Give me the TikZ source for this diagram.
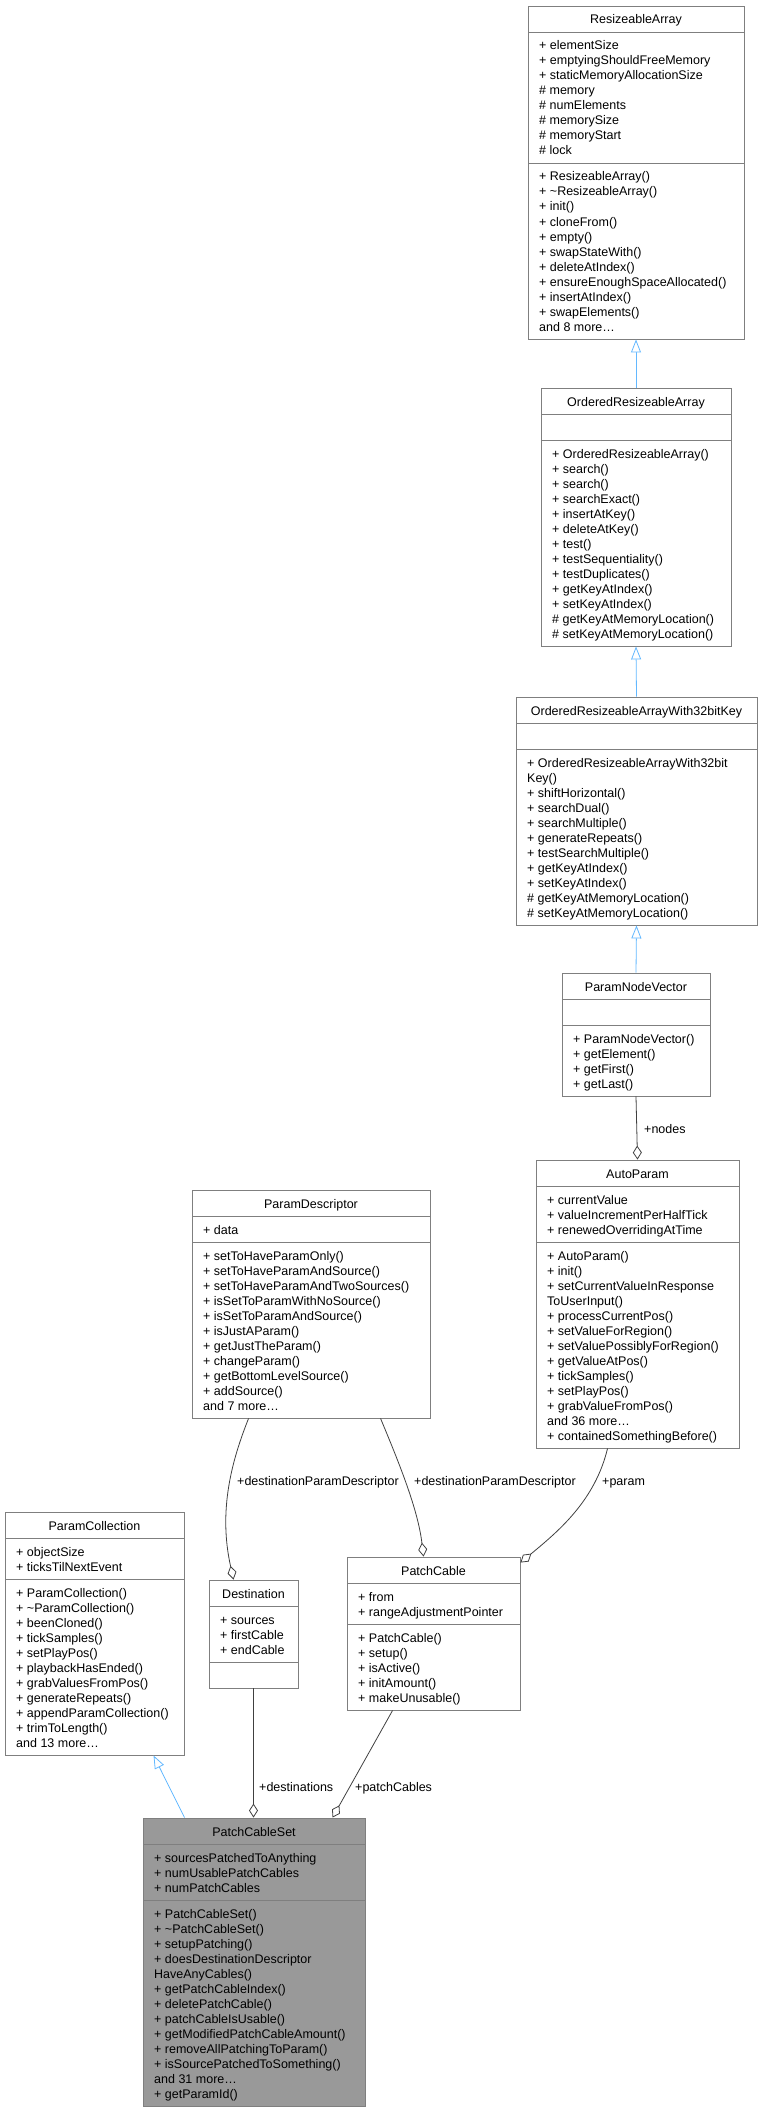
\documentclass[tikz,border=0pt]{standalone}
\usepackage{fontspec}
\setmainfont{Liberation Sans}
\usetikzlibrary{arrows.meta,fit}
\definecolor{boxgray}{HTML}{7F7F7F}
\definecolor{inh}{HTML}{63B8FF}
\definecolor{lnk}{HTML}{404040}
\definecolor{selfill}{HTML}{999999}
\newcommand\mydots{\ldots}
\tikzset{
  txt/.style={inner sep=0pt,font=\fontsize{12.5}{15}\selectfont,text=black},
  inhline/.style={draw=inh,line width=0.8pt,-{Triangle[open,length=13pt,width=10pt,fill=white]}},
  aggline/.style={draw=lnk,line width=0.8pt,-{Diamond[open,length=14pt,width=9pt,fill=white]}},
}
% name, x1, x2, top, d1, d2, bottom, title, fill
\newcommand\umlbox[9]{%
  \node[fit={(#2,#4)(#3,#7)},inner sep=0pt,draw=boxgray,line width=0.9pt,fill=#9] (#1) {};
  \draw[boxgray,line width=0.9pt] (#2,#5) -- (#3,#5);
  \draw[boxgray,line width=0.9pt] (#2,#6) -- (#3,#6);
  \node[txt,anchor=base] (#1-t) at ({(#2+#3)/2},#4+18) {#8};
}
% prefix, x, first baseline, list
\newcommand\umllines[4]{%
  \foreach \t [count=\i] in {#4} {\node[txt,anchor=base west] (#1\i) at (#2,{#3+15*(\i-1)}) {\t};}
}
\begin{document}
\begin{tikzpicture}[x=1pt,y=-1pt]
\useasboundingbox (0,0) rectangle (762,2111);

\umlbox{ra}{528}{744}{6}{32}{163}{339}{ResizeableArray}{white}
\umllines{ra-a}{539}{50}{+ elementSize,+ emptyingShouldFreeMemory,+ staticMemoryAllocationSize,\# memory,\# numElements,\# memorySize,\# memoryStart,\# lock}
\umllines{ra-m}{539}{181}{+ ResizeableArray(),+ \textasciitilde ResizeableArray(),+ init(),+ cloneFrom(),+ empty(),+ swapStateWith(),+ deleteAtIndex(),+ ensureEnoughSpaceAllocated(),+ insertAtIndex(),+ swapElements(),and 8 more\mydots}

\umlbox{ora}{541}{731}{388}{414}{440}{646}{OrderedResizeableArray}{white}
\umllines{ora-m}{552}{458}{+ OrderedResizeableArray(),+ search(),+ search(),+ searchExact(),+ insertAtKey(),+ deleteAtKey(),+ test(),+ testSequentiality(),+ testDuplicates(),+ getKeyAtIndex(),+ setKeyAtIndex(),\# getKeyAtMemoryLocation(),\# setKeyAtMemoryLocation()}

\umlbox{oraw}{516}{757}{697}{723}{749}{925}{OrderedResizeableArrayWith32bitKey}{white}
\umllines{oraw-m}{527}{767}{+ OrderedResizeableArrayWith32bit,Key(),+ shiftHorizontal(),+ searchDual(),+ searchMultiple(),+ generateRepeats(),+ testSearchMultiple(),+ getKeyAtIndex(),+ setKeyAtIndex(),\# getKeyAtMemoryLocation(),\# setKeyAtMemoryLocation()}

\umlbox{pnv}{562}{710}{973}{999}{1025}{1096}{ParamNodeVector}{white}
\umllines{pnv-m}{573}{1043}{+ ParamNodeVector(),+ getElement(),+ getFirst(),+ getLast()}

\umlbox{ap}{536}{739}{1160}{1186}{1242}{1448}{AutoParam}{white}
\umllines{ap-a}{547}{1204}{+ currentValue,+ valueIncrementPerHalfTick,+ renewedOverridingAtTime}
\umllines{ap-m}{547}{1260}{+ AutoParam(),+ init(),+ setCurrentValueInResponse,ToUserInput(),+ processCurrentPos(),+ setValueForRegion(),+ setValuePossiblyForRegion(),+ getValueAtPos(),+ tickSamples(),+ setPlayPos(),+ grabValueFromPos(),and 36 more\mydots,+ containedSomethingBefore()}

\umlbox{pd}{192}{430}{1190}{1216}{1242}{1418}{ParamDescriptor}{white}
\umllines{pd-a}{203}{1234}{+ data}
\umllines{pd-m}{203}{1260}{+ setToHaveParamOnly(),+ setToHaveParamAndSource(),+ setToHaveParamAndTwoSources(),+ isSetToParamWithNoSource(),+ isSetToParamAndSource(),+ isJustAParam(),+ getJustTheParam(),+ changeParam(),+ getBottomLevelSource(),+ addSource(),and 7 more\mydots}

\umlbox{pcoll}{5}{184}{1512}{1538}{1579}{1755}{ParamCollection}{white}
\umllines{pcoll-a}{16}{1556}{+ objectSize,+ ticksTilNextEvent}
\umllines{pcoll-m}{16}{1597}{+ ParamCollection(),+ \textasciitilde ParamCollection(),+ beenCloned(),+ tickSamples(),+ setPlayPos(),+ playbackHasEnded(),+ grabValuesFromPos(),+ generateRepeats(),+ appendParamCollection(),+ trimToLength(),and 13 more\mydots}

\umlbox{dest}{209}{298}{1580}{1606}{1662}{1688}{Destination}{white}
\umllines{dest-a}{220}{1624}{+ sources,+ firstCable,+ endCable}

\umlbox{pc}{347}{520}{1557}{1583}{1624}{1710}{PatchCable}{white}
\umllines{pc-a}{358}{1601}{+ from,+ rangeAdjustmentPointer}
\umllines{pc-m}{358}{1642}{+ PatchCable(),+ setup(),+ isActive(),+ initAmount(),+ makeUnusable()}

\umlbox{pcs}{143}{365}{1818}{1844}{1900}{2106}{PatchCableSet}{selfill}
\umllines{pcs-a}{154}{1862}{+ sourcesPatchedToAnything,+ numUsablePatchCables,+ numPatchCables}
\umllines{pcs-m}{154}{1918}{+ PatchCableSet(),+ \textasciitilde PatchCableSet(),+ setupPatching(),+ doesDestinationDescriptor,HaveAnyCables(),+ getPatchCableIndex(),+ deletePatchCable(),+ patchCableIsUsable(),+ getModifiedPatchCableAmount(),+ removeAllPatchingToParam(),+ isSourcePatchedToSomething(),and 31 more\mydots,+ getParamId()}

% inheritance
\draw[inhline] (ora.north) -- (ra.south);
\draw[inhline] (oraw.north) -- (ora.south);
\draw[inhline] (pnv.north) -- (oraw.south);
\draw[inhline] ([xshift=42pt]pcs.north west) -- ([xshift=149pt]pcoll.south west);

% aggregation
\draw[aggline] (pnv.south) -- (ap.north);
\node[txt,anchor=base west] (l1) at (644,1133) {+nodes};
\draw[aggline] ([xshift=57pt]pd.south west) .. controls (232,1460) and (218,1510) .. ([xshift=25pt]dest.north west);
\node[txt,anchor=base west] (l2) at (237,1485) {+destinationParamDescriptor};
\draw[aggline] ([xshift=189pt]pd.south west) .. controls (400,1465) and (418,1510) .. ([xshift=77pt]pc.north west);
\node[txt,anchor=base west] (l3) at (414,1485) {+destinationParamDescriptor};
\draw[aggline] ([xshift=72pt]ap.south west) .. controls (595,1500) and (560,1530) .. ([yshift=-6pt]pc.north east);
\node[txt,anchor=base west] (l4) at (602,1485) {+param};
\draw[aggline] (dest.south) -- (dest.south |- pcs.north);
\node[txt,anchor=base west] (l5) at (259,1791) {+destinations};
\draw[aggline] ([xshift=46pt]pc.south west) -- ([xshift=190pt]pcs.north west);
\node[txt,anchor=base west] (l6) at (355,1791) {+patchCables};
\end{tikzpicture}
\end{document}
